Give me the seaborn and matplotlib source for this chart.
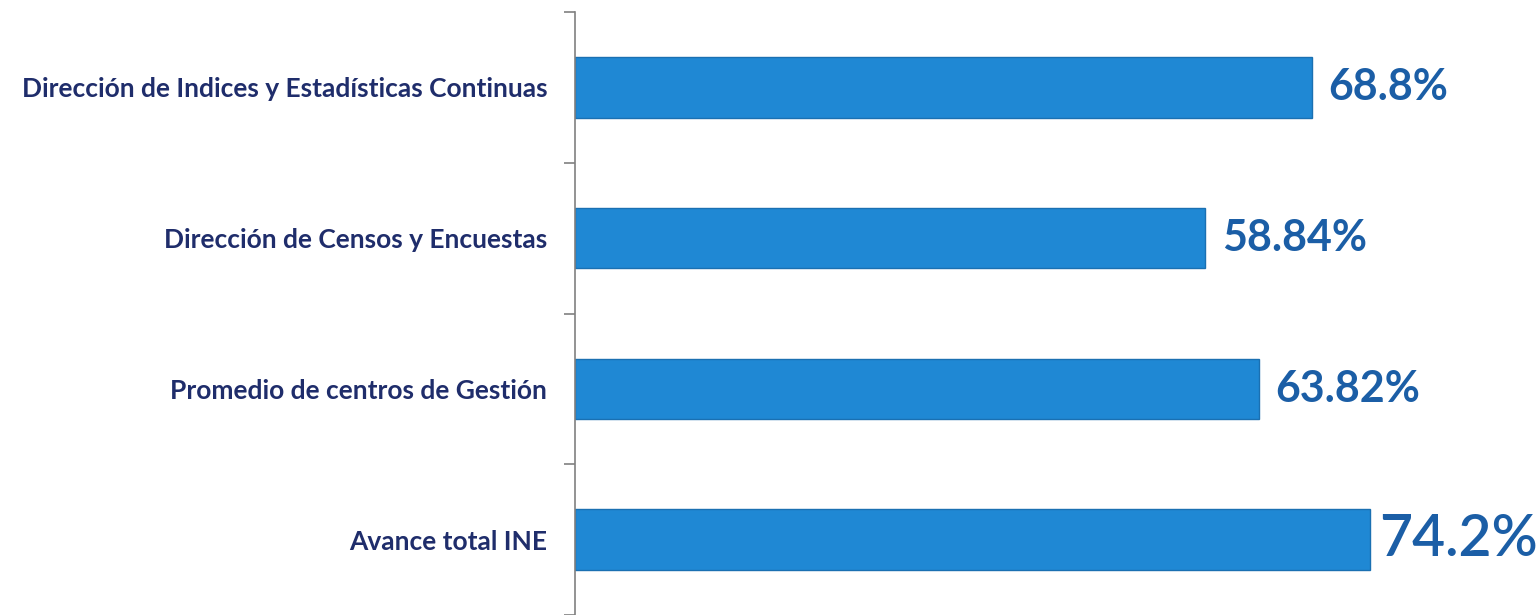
import matplotlib
matplotlib.use("Agg")
import matplotlib.pyplot as plt
import seaborn as sns
import pandas as pd
from matplotlib.ticker import FixedLocator, NullLocator

categories = [
    "Dirección de Indices y Estadísticas Continuas",
    "Dirección de Censos y Encuestas",
    "Promedio de centros de Gestión",
    "Avance total INE",
]
values = [68.8, 58.84, 63.82, 74.2]
value_labels = ["68.8%", "58.84%", "63.82%", "74.2%"]

sns.set_style("white")
plt.rcParams["font.family"] = ["Lato", "DejaVu Sans"]

df = pd.DataFrame({"cat": categories, "val": values})

fig = plt.figure(figsize=(15.4, 6.15), dpi=100)
ax = fig.add_axes([575 / 1540, 0.0, 1 - 575 / 1540, 1 - 12 / 615])

sns.barplot(data=df, y="cat", x="val", orient="h", color="#1F88D4",
            saturation=1, width=0.4, edgecolor="#1A70B2", linewidth=1, ax=ax)

ax.set_xlim(0, 90.1)
ax.set_ylim(3.5, -0.5)
ax.set_xlabel("")
ax.set_ylabel("")
ax.xaxis.set_major_locator(NullLocator())

for s in ["top", "right", "bottom"]:
    ax.spines[s].set_visible(False)
ax.spines["left"].set_color("#808080")
ax.spines["left"].set_linewidth(1.2)

ax.yaxis.set_minor_locator(FixedLocator([-0.5, 0.5, 1.5, 2.5, 3.5]))
ax.tick_params(axis="y", which="minor", length=8, width=1.2, color="#808080", left=True)
ax.tick_params(axis="y", which="major", length=0, pad=20)
for lbl in ax.get_yticklabels():
    lbl.set_fontsize(19)
    lbl.set_fontweight("bold")
    lbl.set_color("#1F2D6B")

for i, (v, t) in enumerate(zip(values, value_labels)):
    last = i == len(values) - 1
    ax.annotate(t, xy=(v, i), xytext=(7 if last else 12, 0), textcoords="offset points",
                ha="left", va="center",
                fontsize=41 if last else 31,
                fontweight="semibold" if last else "bold",
                color="#1B5EA6")

fig.savefig("out.png", dpi=100)
